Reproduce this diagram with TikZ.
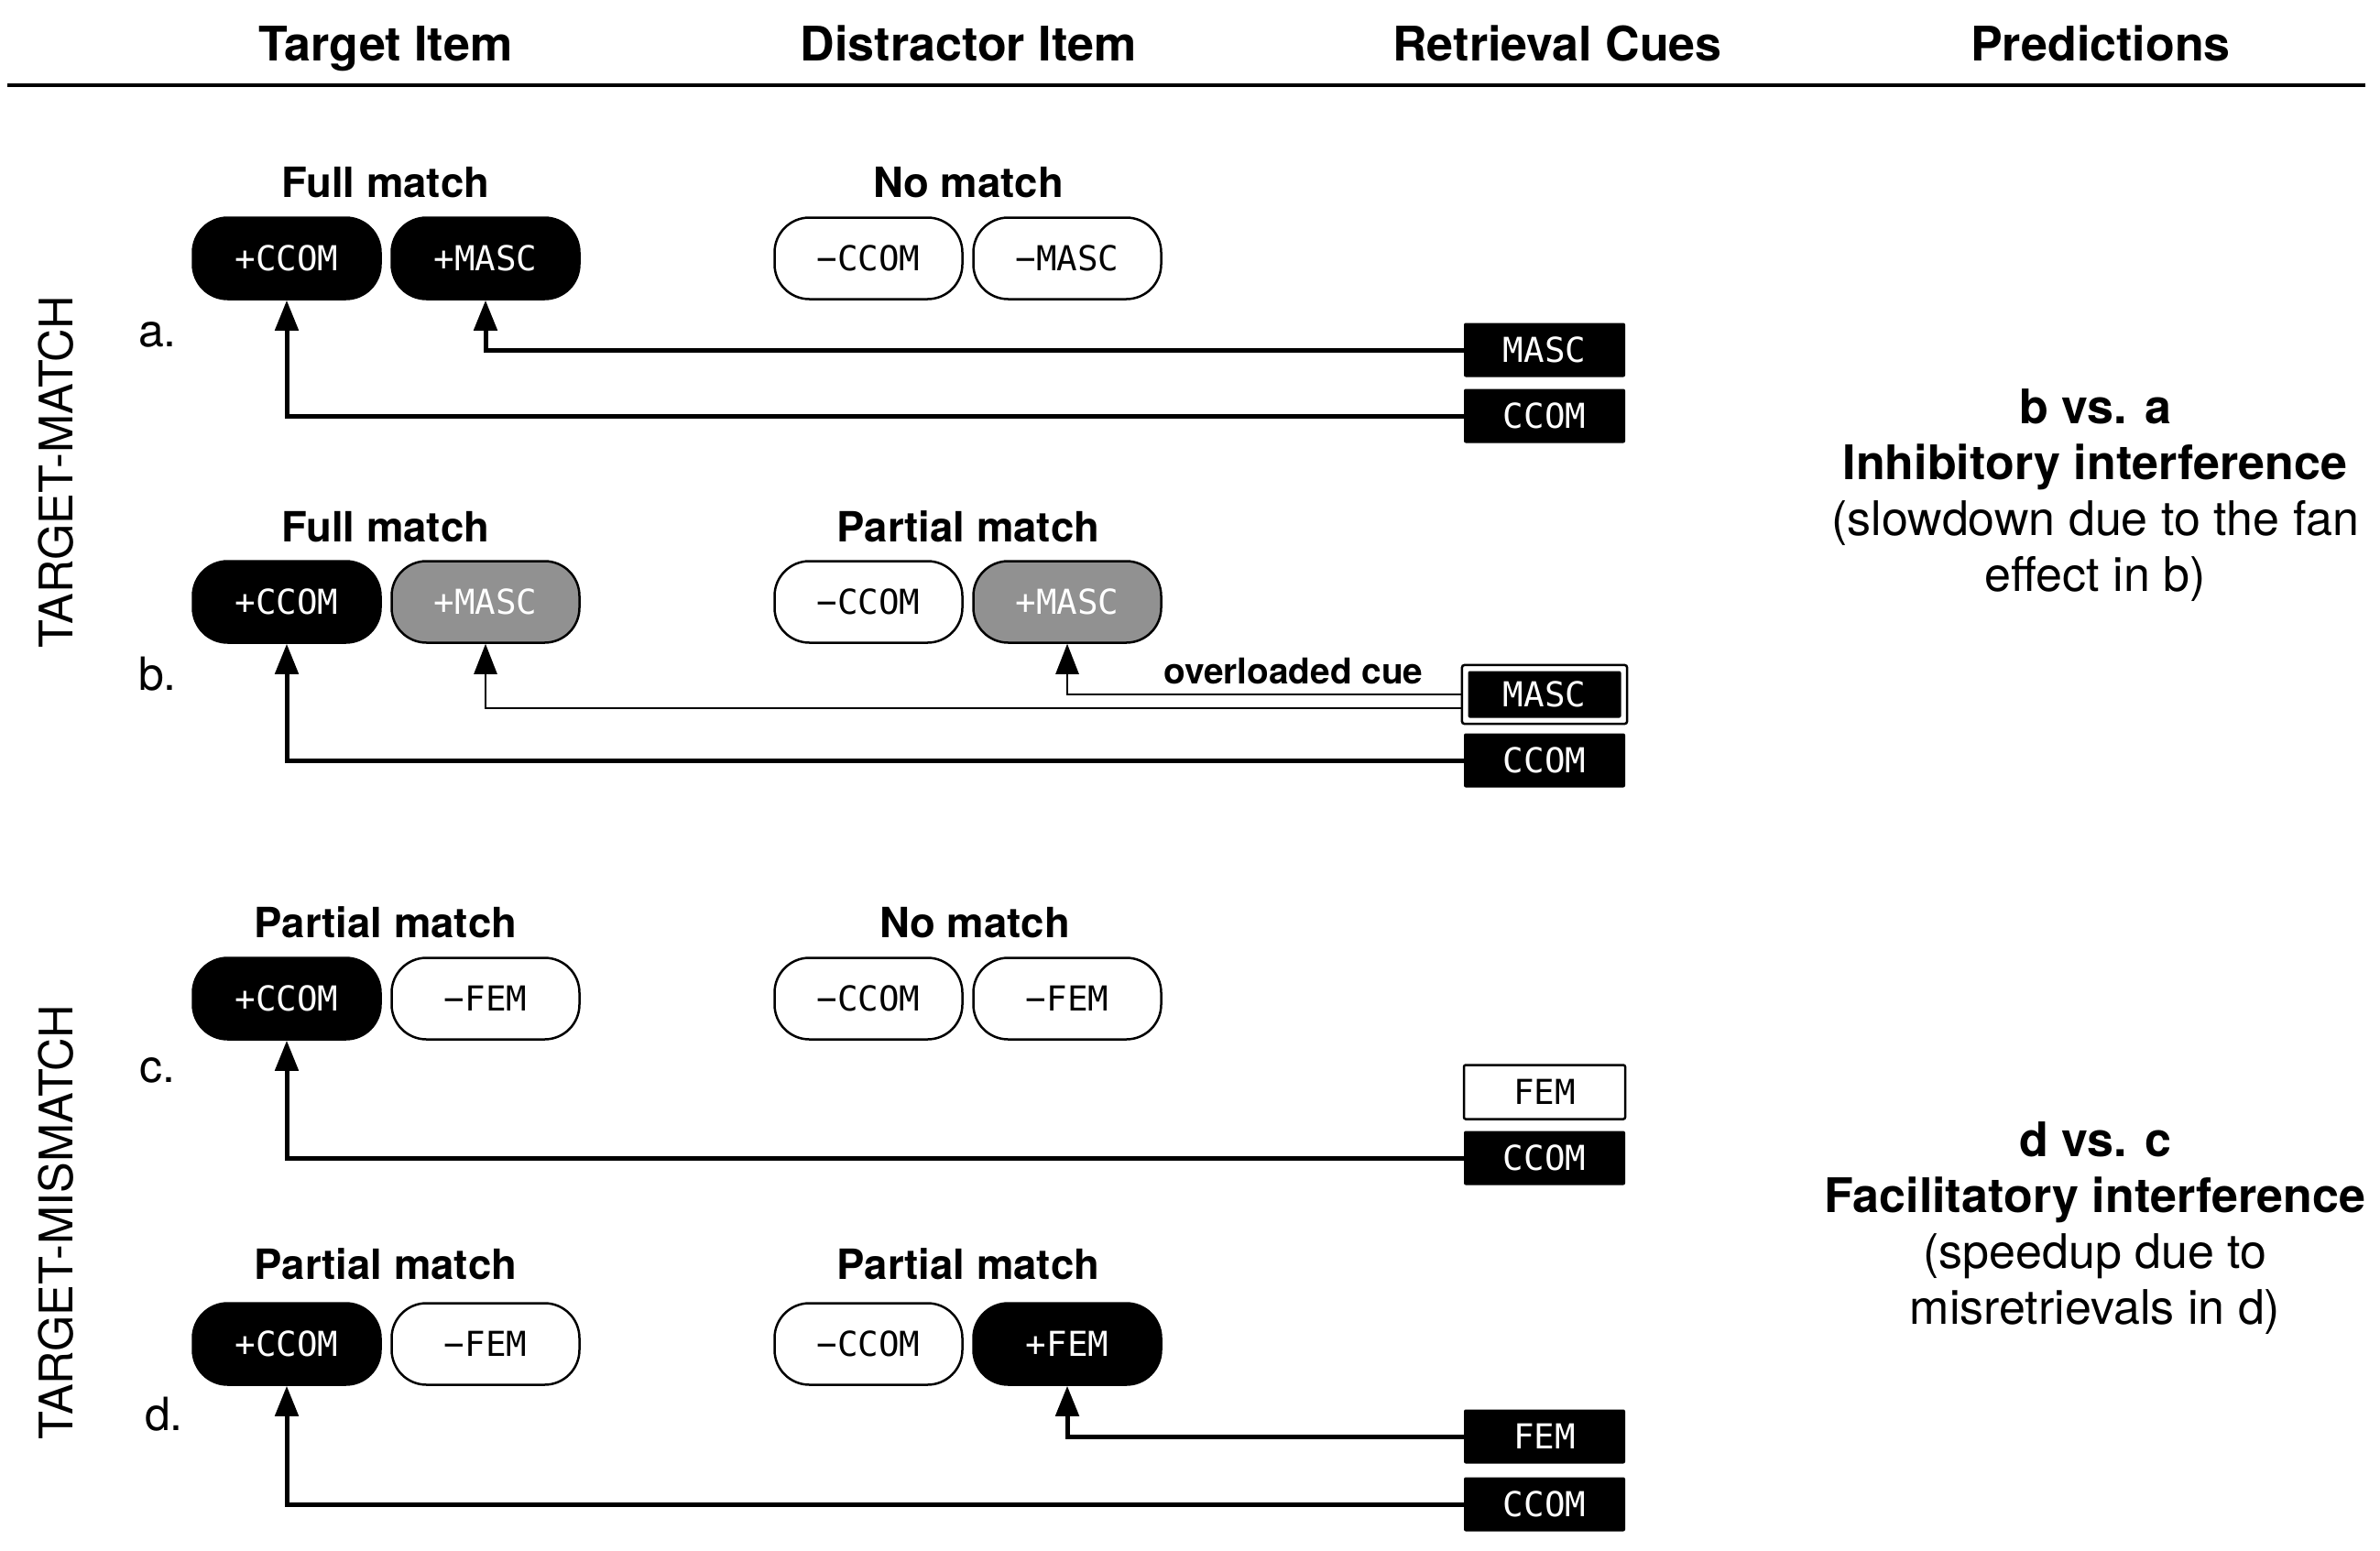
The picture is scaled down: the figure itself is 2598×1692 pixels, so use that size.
\documentclass[tikz,border=0pt]{standalone}
\usepackage{fontspec}
\setmainfont{TeX Gyre Heros}
\newfontfamily\monof{DejaVu Sans Mono}
\usetikzlibrary{arrows.meta,fit}
\definecolor{pgray}{RGB}{145,145,145}
\begin{document}
\begin{tikzpicture}[x=1pt,y=-1pt,
  pill/.style={rounded corners=38pt, minimum width=205pt, minimum height=89pt, line width=2.5pt, draw=black, font=\monof\fontsize{37.5}{44}\selectfont, inner sep=0pt},
  pblack/.style={pill, fill=black, text=white},
  pgrey/.style={pill, fill=pgray, text=white},
  pwhite/.style={pill, fill=white, text=black},
  cue/.style={minimum width=176pt, minimum height=59pt, rounded corners=2pt, fill=black, text=white, font=\monof\fontsize{37.5}{44}\selectfont, inner sep=0pt},
  cuew/.style={cue, fill=white, text=black, draw=black, line width=2.5pt},
  hdr/.style={font=\bfseries\fontsize{52}{60}\selectfont, anchor=base},
  lbl/.style={font=\bfseries\fontsize{45.5}{54}\selectfont},
  rowl/.style={font=\fontsize{50}{60}\selectfont},
  side/.style={font=\fontsize{50.5}{60}\selectfont, rotate=90},
  pred/.style={font=\fontsize{52}{61}\selectfont, align=center},
  arr/.style={-{Triangle[length=33pt,width=25pt]}, line width=5pt},
  tarr/.style={-{Triangle[length=33pt,width=25pt]}, line width=2.5pt},
]
\useasboundingbox (0,0) rectangle (2598,1692);

% headers
\node[hdr] (h1) at (421,66) {Target Item};
\node[hdr] (h2) at (1057,66) {Distractor Item};
\node[hdr] (h3) at (1700,66) {Retrieval Cues};
\node[hdr] (h4) at (2293,66) {Predictions};
\coordinate (ruleL) at (8,93);
\coordinate (ruleR) at (2582,93);
\draw[line width=3.5pt] (ruleL) -- (ruleR);

% side labels
\node[side] (sm) at (61,515) {TARGET-MATCH};
\node[side] (smm) at (61,1334) {TARGET-MISMATCH};
\node[rowl] (la) at (172,365) {a.};
\node[rowl] (lb) at (172,736) {b.};
\node[rowl] (lc) at (172,1168) {c.};
\node[rowl] (ld) at (179,1544) {d.};

% row a
\node[lbl] (aLT) at (421,199) {Full match};
\node[lbl] (aLD) at (1057,199) {No match};
\node[pblack] (aT1) at (313,282) {+CCOM};
\node[pblack] (aT2) at (530,282) {+MASC};
\node[pwhite] (aD1) at (948,282) {−CCOM};
\node[pwhite] (aD2) at (1165,282) {−MASC};
\node[cue] (aCM) at (1686,382) {MASC};
\node[cue] (aCC) at (1686,454) {CCOM};
\draw[arr] (aCM.west) -| (aT2.south);
\draw[arr] (aCC.west) -| (aT1.south);

% row b
\node[lbl] (bLT) at (421,575) {Full match};
\node[lbl] (bLD) at (1057,575) {Partial match};
\node[pblack] (bT1) at (313,657) {+CCOM};
\node[pgrey] (bT2) at (530,657) {+MASC};
\node[pwhite] (bD1) at (948,657) {−CCOM};
\node[pgrey] (bD2) at (1165,657) {+MASC};
\node[cue, minimum width=167pt, minimum height=51pt] (bCM) at (1686,758) {MASC};
\node[fit=(bCM), inner sep=6.5pt, draw=black, line width=2.5pt, rounded corners=3pt] (bFrame) {};
\node[cue] (bCC) at (1686,830) {CCOM};
\node[font=\bfseries\fontsize{38.8}{46}\selectfont] (ovl) at (1412,733) {overloaded cue};
\draw[tarr] (bFrame.west) -| (bD2.south);
\draw[tarr] ([yshift=-15pt]bFrame.west) -| (bT2.south);
\draw[arr] (bCC.west) -| (bT1.south);

% row c
\node[lbl] (cLT) at (421,1007) {Partial match};
\node[lbl] (cLD) at (1064,1007) {No match};
\node[pblack] (cT1) at (313,1090) {+CCOM};
\node[pwhite] (cT2) at (530,1090) {−FEM};
\node[pwhite] (cD1) at (948,1090) {−CCOM};
\node[pwhite] (cD2) at (1165,1090) {−FEM};
\node[cuew] (cCF) at (1686,1192) {FEM};
\node[cue] (cCC) at (1686,1264) {CCOM};
\draw[arr] (cCC.west) -| (cT1.south);

% row d
\node[lbl] (dLT) at (421,1380) {Partial match};
\node[lbl] (dLD) at (1057,1380) {Partial match};
\node[pblack] (dT1) at (313,1467) {+CCOM};
\node[pwhite] (dT2) at (530,1467) {−FEM};
\node[pwhite] (dD1) at (948,1467) {−CCOM};
\node[pblack] (dD2) at (1165,1467) {+FEM};
\node[cue] (dCF) at (1686,1568) {FEM};
\node[cue] (dCC) at (1686,1642) {CCOM};
\draw[arr] (dCF.west) -| (dD2.south);
\draw[arr] (dCC.west) -| (dT1.south);

% predictions
\node[pred] (p1) at (2287,541) {\textbf{b vs. a}\\\textbf{Inhibitory interference}\\(slowdown due to the fan\\effect in b)};
\node[pred] (p2) at (2287,1341) {\textbf{d vs. c}\\\textbf{Facilitatory interference}\\(speedup due to\\misretrievals in d)};
\end{tikzpicture}
\end{document}
